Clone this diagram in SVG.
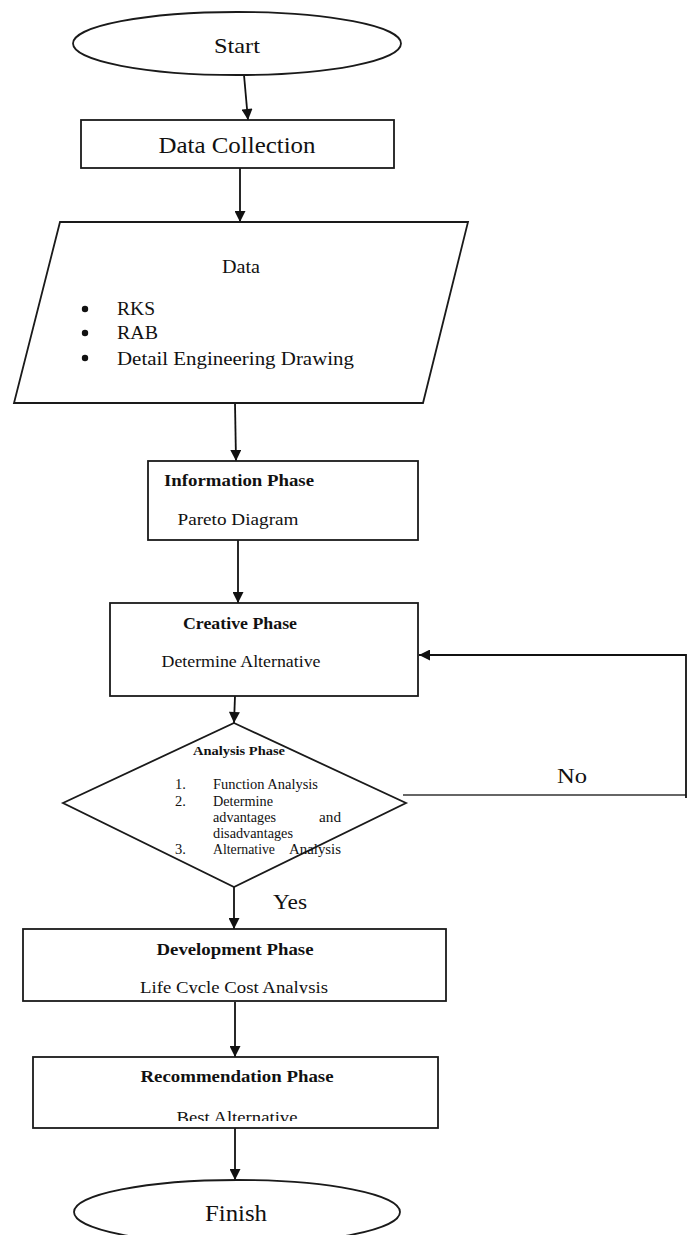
<svg xmlns="http://www.w3.org/2000/svg" width="692" height="1235" viewBox="0 0 692 1235">
<style>
.shape{fill:#fff;stroke:#1a1a1a;stroke-width:1.8}
.t{font-family:"Liberation Serif","Times New Roman",serif;fill:#111;text-anchor:middle}
.b{font-weight:bold}
.l{text-anchor:start}
.conn{fill:none;stroke:#111;stroke-width:1.8}
</style>
<defs>
<marker id="ah" viewBox="0 0 10 10" refX="10" refY="5" markerWidth="6" markerHeight="7" markerUnits="userSpaceOnUse" orient="auto">
<path d="M0,0 L10,5 L0,10 z" fill="#111"/>
</marker>
<marker id="ahb" viewBox="0 0 10 10" refX="10" refY="5" markerWidth="13" markerHeight="11" markerUnits="userSpaceOnUse" orient="auto">
<path d="M0,0 L10,5 L0,10 z" fill="#111"/>
</marker>
<clipPath id="clipDev"><rect x="0" y="900" width="692" height="93.5"/></clipPath>
<clipPath id="clipRec"><rect x="0" y="1090" width="692" height="31"/></clipPath>
</defs>

<g id="connectors">
<line class="conn" x1="244" y1="75" x2="248" y2="120" marker-end="url(#ahb)"/>
<line class="conn" x1="240" y1="168" x2="240" y2="222" marker-end="url(#ahb)"/>
<line class="conn" x1="235" y1="403" x2="236" y2="461" marker-end="url(#ahb)"/>
<line class="conn" x1="238" y1="540" x2="238" y2="603" marker-end="url(#ahb)"/>
<line class="conn" x1="235" y1="696" x2="234" y2="723" marker-end="url(#ahb)"/>
<line class="conn" x1="234" y1="887" x2="234" y2="929" marker-end="url(#ahb)"/>
<line class="conn" x1="235" y1="1002" x2="235" y2="1057" marker-end="url(#ahb)"/>
<line class="conn" x1="235" y1="1128" x2="235" y2="1180" marker-end="url(#ahb)"/>
<line x1="403" y1="795" x2="686" y2="795" stroke="#666" stroke-width="1.8"/>
<polyline class="conn" points="686,798 686,655 419,655" marker-end="url(#ahb)"/>
<text class="t" x="572" y="783" font-size="21" textLength="30" lengthAdjust="spacingAndGlyphs">No</text>
<text class="t" x="290" y="909" font-size="21" textLength="34" lengthAdjust="spacingAndGlyphs">Yes</text>
</g>

<g id="start">
<ellipse class="shape" cx="237" cy="43.5" rx="164" ry="31.5"/>
<text class="t" x="237" y="53" font-size="22" textLength="46" lengthAdjust="spacingAndGlyphs">Start</text>
</g>

<g id="data-collection">
<rect class="shape" x="81" y="120" width="313" height="48"/>
<text class="t" x="237" y="153" font-size="24" textLength="157" lengthAdjust="spacingAndGlyphs">Data Collection</text>
</g>

<g id="data">
<polygon class="shape" points="60,222 468,222 423,403 14,403"/>
<text class="t" x="241" y="273" font-size="18.5" textLength="38" lengthAdjust="spacingAndGlyphs">Data</text>
<circle cx="85" cy="309" r="3.2" fill="#111"/>
<circle cx="85" cy="333" r="3.2" fill="#111"/>
<circle cx="85" cy="358" r="3.2" fill="#111"/>
<text class="t l" x="117" y="315" font-size="18.5" textLength="38" lengthAdjust="spacingAndGlyphs">RKS</text>
<text class="t l" x="117" y="339" font-size="18.5" textLength="41" lengthAdjust="spacingAndGlyphs">RAB</text>
<text class="t l" x="117" y="365" font-size="18.5" textLength="237" lengthAdjust="spacingAndGlyphs">Detail Engineering Drawing</text>
</g>

<g id="information-phase">
<rect class="shape" x="148" y="461" width="270" height="79"/>
<text class="t b" x="239" y="486" font-size="17" textLength="150" lengthAdjust="spacingAndGlyphs">Information Phase</text>
<text class="t" x="238" y="525" font-size="17.5" textLength="121" lengthAdjust="spacingAndGlyphs">Pareto Diagram</text>
</g>

<g id="creative-phase">
<rect class="shape" x="110" y="603" width="308" height="93"/>
<text class="t b" x="240" y="629" font-size="17" textLength="114" lengthAdjust="spacingAndGlyphs">Creative Phase</text>
<text class="t" x="241" y="667" font-size="17.5" textLength="159" lengthAdjust="spacingAndGlyphs">Determine Alternative</text>
</g>

<g id="analysis-phase">
<polygon class="shape" points="234,723 406,803 234,887 63,803"/>
<text class="t b" x="239" y="755" font-size="13" textLength="92" lengthAdjust="spacingAndGlyphs">Analysis Phase</text>
<text class="t l" x="175" y="789" font-size="14.5">1.</text>
<text class="t l" x="213" y="789" font-size="14.5" textLength="105" lengthAdjust="spacingAndGlyphs">Function Analysis</text>
<text class="t l" x="175" y="806" font-size="14.5">2.</text>
<text class="t l" x="213" y="806" font-size="14.5" textLength="60" lengthAdjust="spacingAndGlyphs">Determine</text>
<text class="t l" x="213" y="822" font-size="14.5" textLength="63" lengthAdjust="spacingAndGlyphs">advantages</text>
<text class="t" x="330" y="822" font-size="14.5" textLength="22" lengthAdjust="spacingAndGlyphs">and</text>
<text class="t l" x="213" y="838" font-size="14.5" textLength="80" lengthAdjust="spacingAndGlyphs">disadvantages</text>
<text class="t l" x="175" y="854" font-size="14.5">3.</text>
<text class="t l" x="213" y="854" font-size="14.5" textLength="62" lengthAdjust="spacingAndGlyphs">Alternative</text>
<text class="t" x="315" y="854" font-size="14.5" textLength="52" lengthAdjust="spacingAndGlyphs">Analysis</text>
</g>

<g id="development-phase">
<rect class="shape" x="23" y="929" width="423" height="72"/>
<text class="t b" x="235" y="955" font-size="17" textLength="157" lengthAdjust="spacingAndGlyphs">Development Phase</text>
<text class="t" x="234" y="993" font-size="17.5" textLength="188" lengthAdjust="spacingAndGlyphs" clip-path="url(#clipDev)">Life Cycle Cost Analysis</text>
</g>

<g id="recommendation-phase">
<rect class="shape" x="33" y="1057" width="405" height="71"/>
<text class="t b" x="237" y="1082" font-size="17" textLength="193" lengthAdjust="spacingAndGlyphs">Recommendation Phase</text>
<text class="t" x="237" y="1123" font-size="17.5" textLength="121" lengthAdjust="spacingAndGlyphs" clip-path="url(#clipRec)">Best Alternative</text>
</g>

<g id="finish">
<ellipse class="shape" cx="237" cy="1212" rx="163" ry="32"/>
<text class="t" x="236" y="1221" font-size="23" textLength="62" lengthAdjust="spacingAndGlyphs">Finish</text>
</g>
</svg>
